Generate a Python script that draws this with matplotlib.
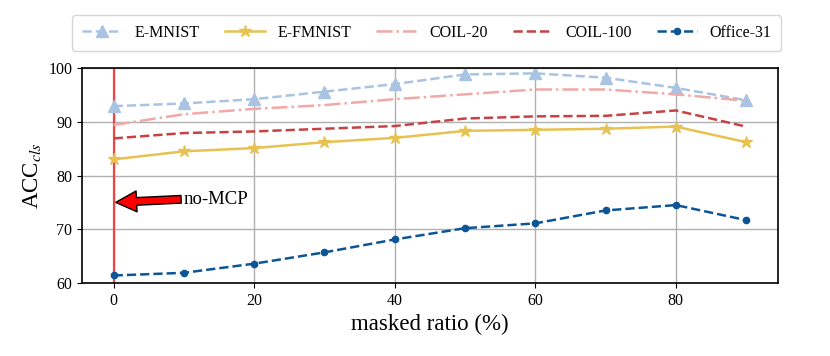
import matplotlib
matplotlib.use("Agg")
import matplotlib.pyplot as plt

plt.rcParams['font.family'] = ['Liberation Serif', 'DejaVu Serif']
plt.rcParams['mathtext.fontset'] = 'stix'

ratios = [0, 10, 20, 30, 40, 50, 60, 70, 80, 90]
emnist = [92.9, 93.4, 94.2, 95.6, 97.0, 98.8, 99.0, 98.2, 96.3, 94.0]
efmnist = [83.0, 84.5, 85.1, 86.2, 87.0, 88.3, 88.5, 88.7, 89.1, 86.2]
coil20 = [89.4, 91.4, 92.4, 93.1, 94.2, 95.1, 96.0, 96.0, 95.1, 93.9]
coil100 = [86.9, 87.9, 88.2, 88.7, 89.2, 90.6, 91.0, 91.1, 92.1, 89.1]
office31 = [61.4, 61.9, 63.6, 65.7, 68.1, 70.2, 71.1, 73.5, 74.5, 71.7]
series_names = ['E-MNIST', 'E-FMNIST', 'COIL-20', 'COIL-100', 'Office-31']
x_ticks = [0, 20, 40, 60, 80]
y_ticks = [60, 70, 80, 90, 100]

fig = plt.figure(figsize=(8.3, 3.56), dpi=100)
ax = fig.add_axes([0.0988, 0.205, 0.8382, 0.604])

ax.plot(ratios, emnist, ls='--', color='#a9c4e2', marker='^', ms=8, lw=1.8, label=series_names[0])
ax.plot(ratios, efmnist, ls='-', color='#e8c251', marker='*', ms=9, lw=1.8, label=series_names[1])
ax.plot(ratios, coil20, ls='-.', color='#f2a8a6', lw=1.8, label=series_names[2])
ax.plot(ratios, coil100, ls='--', color='#c74243', lw=1.8, label=series_names[3])
ax.plot(ratios, office31, ls='--', color='#0c5597', marker='o', ms=4.5, lw=1.8, label=series_names[4])

ax.axvline(0, color='#ee4444', lw=1.6, zorder=1)
ax.annotate('no-MCP', xy=(0.3, 75), xytext=(10, 75.6), fontsize=13.5, va='center',
            arrowprops=dict(facecolor='red', edgecolor='black', lw=1.0,
                            width=5.5, headwidth=15, headlength=15, shrink=0.0))

ax.set_ylim(60, 100)
ax.set_xticks(x_ticks)
ax.set_yticks(y_ticks)
ax.tick_params(labelsize=11.5)
ax.grid(True, color='#b0b0b0', lw=1.0)
ax.set_axisbelow(True)
for s in ax.spines.values():
    s.set_linewidth(1.2)
ax.set_xlabel('masked ratio (%)', fontsize=16.5)
ax.set_ylabel('ACC$_{cls}$', fontsize=16.5)

fig.legend(loc='lower left', bbox_to_anchor=(0.087, 0.858, 0.854, 0.09), mode='expand',
           ncol=5, fontsize=11.5, frameon=True, fancybox=True, edgecolor='#cccccc',
           handlelength=2.5, borderaxespad=0, borderpad=0.6)

fig.savefig('out.png', dpi=100)
